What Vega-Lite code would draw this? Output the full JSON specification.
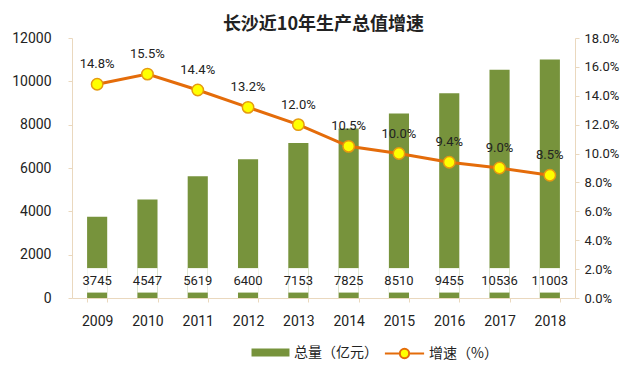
{
  "$schema": "https://vega.github.io/schema/vega-lite/v6.json",
  "width": 503,
  "height": 260,
  "autosize": {"type": "none"},
  "padding": {"left": 72, "top": 38, "right": 65, "bottom": 76},
  "background": "white",
  "title": {
    "text": "长沙近10年生产总值增速",
    "font": "Noto Sans CJK SC",
    "fontSize": 18,
    "fontWeight": "bold",
    "color": "#222222",
    "anchor": "middle",
    "offset": -3
  },
  "config": {
    "view": {"stroke": null},
    "font": "Roboto",
    "axis": {"grid": false, "domainColor": "#ead8be", "tickColor": "#ead8be", "labelColor": "#222222", "labelFontSize": 13, "labelFont": "Roboto"},
    "legend": {"labelFont": "Noto Sans CJK SC", "labelFontSize": 14, "labelColor": "#222222", "labelOffset": 11, "symbolSize": 600}
  },
  "data": {
    "values": [
      {"year": "2009", "total": 3745, "rate": 0.148},
      {"year": "2010", "total": 4547, "rate": 0.155},
      {"year": "2011", "total": 5619, "rate": 0.144},
      {"year": "2012", "total": 6400, "rate": 0.132},
      {"year": "2013", "total": 7153, "rate": 0.120},
      {"year": "2014", "total": 7825, "rate": 0.105},
      {"year": "2015", "total": 8510, "rate": 0.100},
      {"year": "2016", "total": 9455, "rate": 0.094},
      {"year": "2017", "total": 10536, "rate": 0.090},
      {"year": "2018", "total": 11003, "rate": 0.085}
    ]
  },
  "encoding": {
    "x": {
      "field": "year", "type": "ordinal",
      "scale": {"paddingInner": 0.6, "paddingOuter": 0.3},
      "axis": {"title": null, "labelAngle": 0, "ticks": true, "tickBand": "extent", "tickSize": 4, "labelPadding": 12, "labelFontSize": 14}
    }
  },
  "layer": [
    {
      "encoding": {
        "y": {
          "field": "total", "type": "quantitative",
          "scale": {"domain": [0, 12000]},
          "axis": {"title": null, "values": [0, 2000, 4000, 6000, 8000, 10000, 12000], "format": "d", "tickSize": 4, "labelPadding": 17, "labelFontSize": 14}
        }
      },
      "layer": [
        {
          "mark": {"type": "bar"},
          "encoding": {
            "fill": {
              "datum": "总量（亿元）", "type": "nominal",
              "scale": {"range": ["#77933c"]},
              "legend": {
                "title": null,
                "orient": "none",
                "legendX": 186,
                "legendY": 302,
                "symbolType": "M-1.55,-0.33L1.55,-0.33L1.55,0.33L-1.55,0.33Z",
                "symbolStrokeWidth": 0
              }
            }
          }
        },
        {
          "mark": {"type": "bar", "color": "white"},
          "encoding": {
            "y": {"datum": 250, "type": "quantitative"},
            "y2": {"datum": 1380}
          }
        },
        {
          "mark": {"type": "text", "fontSize": 13, "font": "Roboto", "color": "#222222", "baseline": "middle"},
          "encoding": {
            "y": {"datum": 780, "type": "quantitative"},
            "text": {"field": "total", "type": "quantitative", "format": "d"}
          }
        }
      ]
    },
    {
      "encoding": {
        "y": {
          "field": "rate", "type": "quantitative",
          "scale": {"domain": [0, 0.18]},
          "axis": {"title": null, "orient": "right", "values": [0, 0.02, 0.04, 0.06, 0.08, 0.1, 0.12, 0.14, 0.16, 0.18], "format": ".1%", "labelOverlap": false, "tickSize": 4, "labelPadding": 5, "labelFontSize": 13}
        }
      },
      "layer": [
        {
          "mark": {"type": "line", "strokeWidth": 3},
          "encoding": {
            "stroke": {
              "datum": "增速（%）", "type": "nominal",
              "scale": {"range": ["#e46c0a"]},
              "legend": {
                "title": null,
                "orient": "none",
                "legendX": 319,
                "legendY": 302,
                "symbolType": "M-1.6,0L-0.42,0M0.42,0L1.6,0M0.38,0A0.38,0.38,0,1,1,-0.38,0A0.38,0.38,0,1,1,0.38,0",
                "symbolFillColor": "#ffff00",
                "symbolStrokeWidth": 2
              }
            }
          }
        },
        {
          "mark": {"type": "point", "filled": true, "fill": "#ffff00", "stroke": "#e69a10", "strokeWidth": 1.5, "size": 130, "opacity": 1}
        },
        {
          "mark": {"type": "text", "fontSize": 13, "font": "Roboto", "color": "#222222", "baseline": "alphabetic", "dy": -16},
          "encoding": {
            "text": {"field": "rate", "type": "quantitative", "format": ".1%"}
          }
        }
      ]
    }
  ],
  "resolve": {"scale": {"y": "independent"}}
}
